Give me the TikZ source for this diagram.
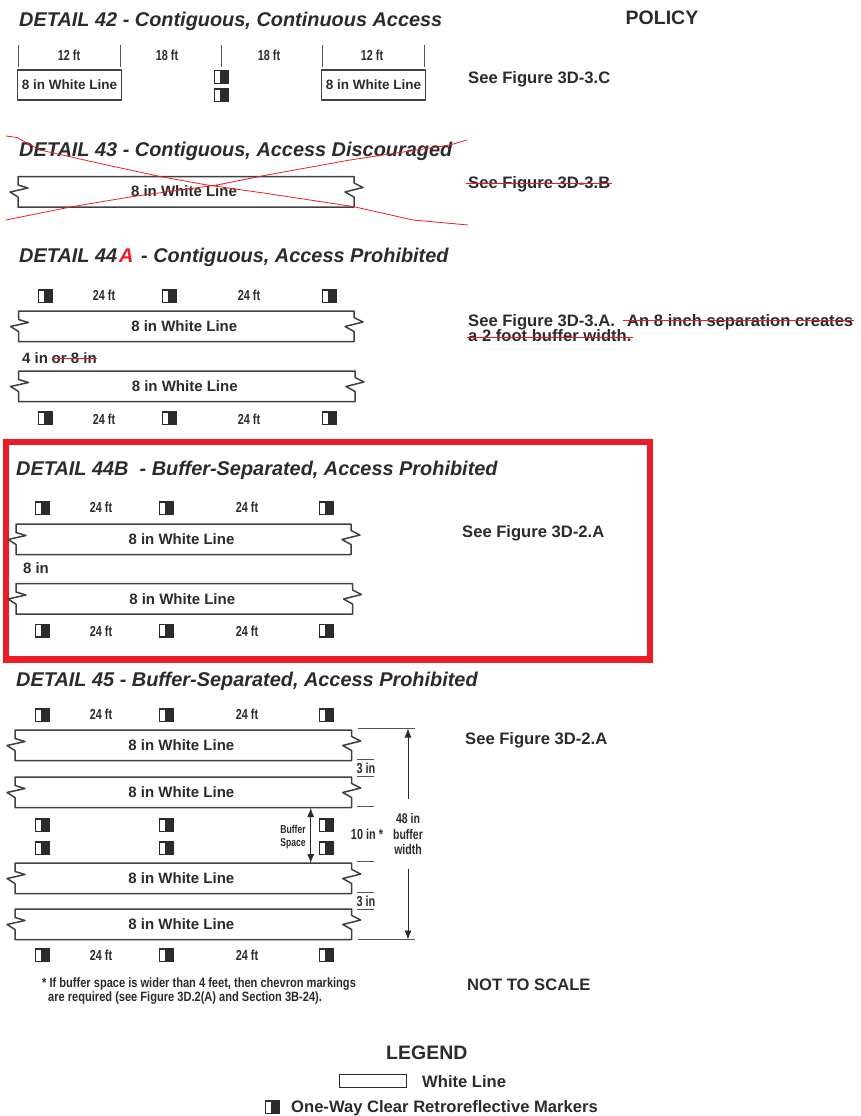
\documentclass[tikz,border=0pt]{standalone}
\usepackage{fontspec}
\setmainfont{Liberation Sans}
\newfontfamily\narrowfont[FakeStretch=0.75]{Liberation Sans}
\newfontfamily\footfont[FakeStretch=0.82]{Liberation Sans}
\usetikzlibrary{arrows.meta}
\definecolor{inkgray}{HTML}{2B2B2B}
\definecolor{policered}{HTML}{ED1C24}
\tikzset{
        every node/.style={inner sep=0pt, text=inkgray},
        heading/.style={anchor=base west, font=\fontsize{19.9}{22}\selectfont\bfseries\itshape},
        policy/.style={anchor=base west, font=\fontsize{16.6}{16}\selectfont\bfseries},
        lbl/.style={font=\fontsize{15}{17}\selectfont\bfseries},
        dist/.style={font=\narrowfont\fontsize{14.5}{16}\selectfont\bfseries},
        tiny/.style={font=\narrowfont\fontsize{11.5}{12.5}\selectfont\bfseries, align=center},
        marker/.style={draw=inkgray, line width=1.5pt, minimum width=13.5pt, minimum height=12.5pt,
          path picture={\fill[inkgray] ([xshift=-1.5pt]path picture bounding box.center |- path picture bounding box.south) rectangle (path picture bounding box.north east);}},
        edge/.style={draw=inkgray!90!white, line width=1.5pt, line join=round, fill=white},
        thin/.style={draw=inkgray!80!white, line width=0.8pt},
        dimline/.style={draw=inkgray, line width=0.8pt, {Latex[length=9pt,width=7pt]}-{Latex[length=9pt,width=7pt]}},
        oneway/.style={draw=inkgray, line width=0.8pt, -{Latex[length=9pt,width=7pt]}},
        strike/.style={draw=policered, line width=1pt},
        crossline/.style={draw=policered, line width=0.8pt},
        pics/whiteline/.style n args={2}{code={
          \path[edge] (0,0) -- (#1,0) -- (#1,6.5) -- ++(9,4.5) -- ++(-18,4.5) -- ++(9,5) -- (#1,30.5)
            -- (0,30.5) -- (0,20.5) -- ++(-8,-5) -- ++(18,-4) -- ++(-10,-3) -- cycle;
          \node[lbl] (-text) at (#1/2-2,#2) {8 in White Line};
        }}
}
\begin{document}
\begin{tikzpicture}[x=1pt,y=-1pt]
  \useasboundingbox (0,0) rectangle (860,1116);

  \node[heading] (head42) at (19,26.3) {DETAIL 42 - Contiguous, Continuous Access};
  \node[policy, font=\fontsize{19.5}{22}\selectfont\bfseries] (policy) at (625.5,25) {POLICY};
  \foreach \x in {18.7,120,221,322.6,424}
    \draw[thin] (\x,45) -- (\x,66.7);
  \node[dist] (d42a) at (69,55.5) {12 ft};
  \node[dist] (d42b) at (167,55) {18 ft};
  \node[dist] (d42c) at (269,55) {18 ft};
  \node[dist] (d42d) at (372,55.5) {12 ft};
  \node[edge, draw, lbl, font=\fontsize{13.5}{15}\selectfont\bfseries, minimum width=104pt, minimum height=30pt] (l42a) at (69.5,85) {8 in White Line};
  \node[edge, draw, lbl, font=\fontsize{13.5}{15}\selectfont\bfseries, minimum width=104pt, minimum height=30pt] (l42b) at (373.5,85) {8 in White Line};
  \node[marker] (m42a) at (221,77) {};
  \node[marker] (m42b) at (221,95) {};
  \node[policy] (fig42) at (468,84) {See Figure 3D-3.C};

  \node[heading] (head43) at (19,156.7) {DETAIL 43 - Contiguous, Access Discouraged};
  \pic (l43) at (18,176.5) {whiteline={336}{15}};
  \node[policy] (fig43) at (468,188) {See Figure 3D-3.B};
  \draw[strike] ([xshift=-2pt,yshift=4.5pt]fig43.base west) -- ([xshift=2pt,yshift=4.5pt]fig43.base east);
  \draw[crossline] (6,136) -- (17,137.5) -- (40,150) -- (100,163.5) -- (160,176.5) -- (207,185) -- (267,193.5) -- (353,206.5) -- (413,220) -- (468,225);
  \draw[crossline] (6,220) -- (73,206.5) -- (133,196.5) -- (217,185) -- (267,175) -- (350,160) -- (450,145) -- (467,140);

  \node[heading] (head44a) at (19,262.7) {DETAIL 44};
  \node[heading, text=policered] (rev44a) at (119,262.7) {A};
  \node[heading] (tail44a) at (141,262.7) {- Contiguous, Access Prohibited};
  \foreach \x in {45,169,329} {
    \node[marker] (m44at\x) at (\x,296) {};
    \node[marker] (m44ab\x) at (\x,418) {};
  }
  \foreach \x in {104,249} {
    \node[dist] (d44at\x) at (\x,295) {24 ft};
    \node[dist] (d44ab\x) at (\x,419) {24 ft};
  }
  \pic (l44at) at (18.5,311) {whiteline={335.5}{15.5}};
  \pic (l44ab) at (18.5,371) {whiteline={336.5}{15.5}};
  \node[lbl, anchor=base west] (gap44a) at (22,363.5) {4 in};
  \node[lbl, anchor=base west] (old44a) at (51.5,363.5) {or 8 in};
  \draw[strike] ([yshift=5.5pt]old44a.base west) -- ([yshift=5.5pt]old44a.base east);
  \node[policy] (fig44a) at (468,326) {See Figure 3D-3.A.};
  \node[policy] (old44b) at (627,326) {An 8 inch separation creates};
  \node[policy] (old44c) at (468,341.5) {a 2 foot buffer width.};
  \draw[strike] ([xshift=-4pt,yshift=6pt]old44b.base west) -- ([xshift=1pt,yshift=6pt]old44b.base east);
  \draw[strike] ([xshift=-1pt,yshift=4.5pt]old44c.base west) -- ([xshift=1pt,yshift=4.5pt]old44c.base east);

  \draw[draw=policered, line width=6.5pt] (6.2,441.8) rectangle (649.8,659.5);
  \node[heading] (head44b) at (16,475.7) {DETAIL 44B};
  \node[heading] (tail44b) at (139.5,475.7) {- Buffer-Separated, Access Prohibited};
  \foreach \x in {42,166,326} {
    \node[marker] (m44bt\x) at (\x,508) {};
    \node[marker] (m44bb\x) at (\x,630.5) {};
  }
  \foreach \x in {101,247} {
    \node[dist] (d44bt\x) at (\x,507.5) {24 ft};
    \node[dist] (d44bb\x) at (\x,631) {24 ft};
  }
  \pic (l44bt) at (16,524) {whiteline={335}{15}};
  \pic (l44bb) at (16,583.5) {whiteline={336.5}{15.5}};
  \node[lbl] (gap44b) at (36,568.5) {8 in};
  \node[policy] (fig44b) at (462,537) {See Figure 3D-2.A};

  \node[heading] (head45) at (16,686.7) {DETAIL 45 - Buffer-Separated, Access Prohibited};
  \foreach \x in {42,166,326} {
    \node[marker] (m45a\x) at (\x,715) {};
    \node[marker] (m45b\x) at (\x,825) {};
    \node[marker] (m45c\x) at (\x,848) {};
    \node[marker] (m45d\x) at (\x,955) {};
  }
  \foreach \x in {101,247} {
    \node[dist] (d45t\x) at (\x,714.5) {24 ft};
    \node[dist] (d45b\x) at (\x,955) {24 ft};
  }
  \pic (l45a) at (15,730) {whiteline={336.7}{15.5}};
  \pic (l45b) at (15,777) {whiteline={336.7}{15.5}};
  \pic (l45c) at (15,863) {whiteline={336.7}{15.5}};
  \pic (l45d) at (15,909) {whiteline={336.7}{15.5}};
  \node[policy] (fig45) at (465,744) {See Figure 3D-2.A};

  \coordinate (tick1l) at (358,728.5);
  \coordinate (tick1r) at (415,728.5);
  \coordinate (tick2l) at (358,939.5);
  \coordinate (tick2r) at (415,939.5);
  \draw[thin] (tick1l) -- (tick1r);
  \draw[thin] (tick2l) -- (tick2r);
  \coordinate (wtop) at (408,728.5);
  \coordinate (wbot) at (408,939.5);
  \node[dist, align=center, inner ysep=14pt, font=\narrowfont\fontsize{14}{15.2}\selectfont\bfseries] (bufwidth) at (408,834) {48 in\\buffer\\width};
  \draw[oneway] (bufwidth.north) -- (wtop);
  \draw[oneway] (bufwidth.south) -- (wbot);
  \node[dist] (tenin) at (367,834) {10 in *};
  \node[tiny] (bufspace) at (293,837) {Buffer\\Space};
  \coordinate (btop) at (310.7,808);
  \coordinate (bbot) at (310.7,863);
  \draw[dimline] (btop) -- (bbot);
  \node[dist] (three1) at (366,768) {3 in};
  \node[dist] (three2) at (366,901) {3 in};
  \foreach \y in {759.5,776.7,806.7,861.7,892,909}
    \draw[thin] (357,\y) -- (374,\y);

  \node[anchor=base west, align=left, font=\footfont\fontsize{13.5}{14}\selectfont\bfseries] (note1) at (42,987) {* If buffer space is wider than 4 feet, then chevron markings};
  \node[anchor=base west, align=left, font=\footfont\fontsize{13.5}{14}\selectfont\bfseries] (note2) at (48,1001) {are required (see Figure 3D.2(A) and Section 3B-24).};
  \node[policy] (scale) at (467,990.5) {NOT TO SCALE};

  \node[policy, font=\fontsize{19.5}{22}\selectfont\bfseries] (legend) at (386,1059) {LEGEND};
  \node[draw=inkgray, line width=1.2pt, minimum width=67pt, minimum height=13.5pt] (legline) at (373,1081) {};
  \node[policy] (legwhite) at (422,1087.5) {White Line};
  \node[marker] (legmark) at (272,1107) {};
  \node[policy] (legmarker) at (291,1112.3) {One-Way Clear Retroreflective Markers};
\end{tikzpicture}
\end{document}
